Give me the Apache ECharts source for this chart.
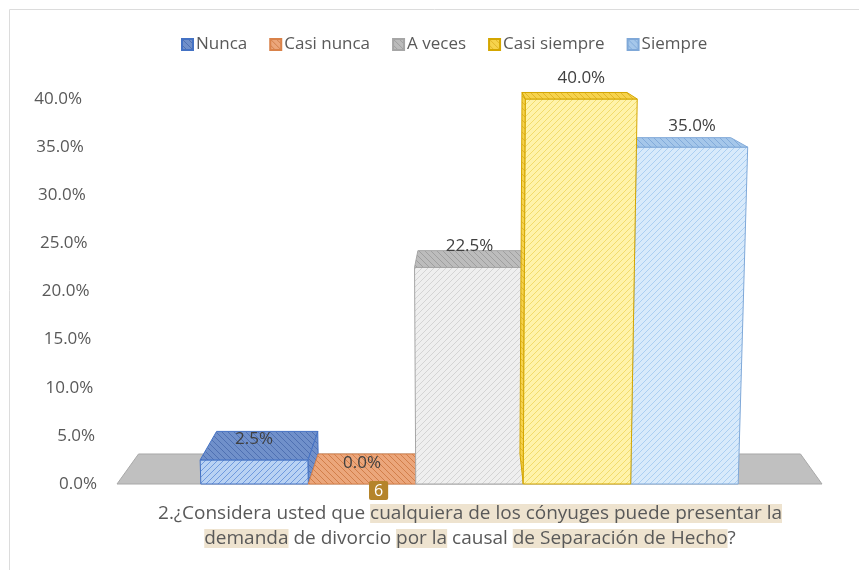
<!DOCTYPE html>
<html>
<head>
<meta charset="utf-8">
<script src="https://cdn.jsdelivr.net/npm/echarts@6/dist/echarts.min.js"></script>
<style>
html,body{margin:0;padding:0;background:#fff}
#myChart{width:859px;height:570px}
</style>
</head>
<body>
<div id="myChart"></div>
<script>
// datos del gráfico
var categories = ['Nunca', 'Casi nunca', 'A veces', 'Casi siempre', 'Siempre'];
var values = [2.5, 0, 22.5, 40, 35];
var yMin = 0, yMax = 40, yStep = 5;
var question = '2.¿Considera usted que {h|cualquiera de los cónyuges puede presentar la}\n{h|demanda} de divorcio {h|por la} causal {h|de Separación de Hecho}?';

var FONT = 'Open Sans';
var DEPTH = 0.939;  // escala del fondo (perspectiva)
var TILT = 9500;    // punto de fuga vertical, px bajo el piso

// relleno rayado tipo Excel
function hatch(bg, line, dir) {
    var c = document.createElement('canvas');
    c.width = 6; c.height = 6;
    var g = c.getContext('2d');
    g.fillStyle = bg; g.fillRect(0, 0, 6, 6);
    g.strokeStyle = line; g.lineWidth = 1;
    g.beginPath();
    if (dir > 0) {
        g.moveTo(0, 6); g.lineTo(6, 0);
        g.moveTo(-3, 3); g.lineTo(3, -3);
        g.moveTo(3, 9); g.lineTo(9, 3);
    } else {
        g.moveTo(0, 0); g.lineTo(6, 6);
        g.moveTo(-3, 3); g.lineTo(3, 9);
        g.moveTo(3, -3); g.lineTo(9, 3);
    }
    g.stroke();
    return { image: c, repeat: 'repeat' };
}

var palette = [
    { front: hatch('#b9d2f3', '#6f9ade', 1), top: hatch('#7090ca', '#4f70b2', -1), edge: '#4472c4' },
    { front: hatch('#f1b48c', '#dd8a55', 1), top: hatch('#eba67b', '#d27e4a', -1), edge: '#d9824a' },
    { front: hatch('#efefef', '#d4d4d4', 1), top: hatch('#bcbcbc', '#9f9f9f', -1), edge: '#a6a6a6' },
    { front: hatch('#fff3aa', '#f2dc6c', 1), top: hatch('#f6d34c', '#e2b52a', -1), edge: '#d4a600' },
    { front: hatch('#d8eafb', '#abcff2', 1), top: hatch('#a5c7ea', '#82abdb', -1), edge: '#7fa8d8' }
];

// proyección 3D aproximada a partir de las coordenadas del eje
function projector(cs, y0) {
    var cx = cs.x + cs.width / 2, vy = cs.y - 107, ty = y0 + TILT;
    return {
        front: function (p) {
            var s = (ty - p[1]) / TILT;
            return [cx + (p[0] - cx) * s, p[1]];
        },
        back: function (p) {
            return [cx + (p[0] - cx) * DEPTH, vy + (p[1] - vy) * DEPTH];
        },
        cx: cx
    };
}

function renderFloor(params, api) {
    var cs = params.coordSys;
    var y0 = api.coord([0, 0])[1];
    var P = projector(cs, y0);
    var a = [cs.x, y0], b = [cs.x + cs.width, y0];
    return {
        type: 'polygon',
        shape: { points: [a, b, P.back(b), P.back(a)] },
        style: { fill: '#c0c0c0', stroke: '#a8a8a8', lineWidth: 1 }
    };
}

function makeRender(k) {
    return function (params, api) {
        var cs = params.coordSys;
        var idx = api.value(0), v = api.value(1);
        var y0 = api.coord([0, 0])[1];
        var P = projector(cs, y0);
        var fl = P.front(api.coord([idx - 0.5, v]));
        var fr = P.front(api.coord([idx + 0.5, v]));
        var bl = P.front(api.coord([idx - 0.5, 0]));
        var br = P.front(api.coord([idx + 0.5, 0]));
        var back = P.back;
        var p = palette[k];
        var children = [];
        if ((fl[0] + fr[0]) / 2 < P.cx) {
            children.push({ type: 'polygon', shape: { points: [fr, back(fr), back(br), br] },
                style: { fill: p.top, stroke: p.edge, lineWidth: 1 } });
        } else {
            children.push({ type: 'polygon', shape: { points: [fl, back(fl), back(bl), bl] },
                style: { fill: p.top, stroke: p.edge, lineWidth: 1 } });
        }
        if (v > 0) {
            children.push({ type: 'polygon', shape: { points: [fl, fr, br, bl] },
                style: { fill: p.front, stroke: p.edge, lineWidth: 1 } });
        }
        children.push({ type: 'polygon', shape: { points: [fl, fr, back(fr), back(fl)] },
            style: { fill: p.top, stroke: p.edge, lineWidth: 1 } });
        children.push({ type: 'text', style: {
            text: v.toFixed(1) + '%', x: (fl[0] + fr[0]) / 2, y: fl[1] - 21,
            align: 'center', verticalAlign: 'middle',
            fill: '#404040', fontSize: 17, fontFamily: FONT } });
        return { type: 'group', children: children };
    };
}

var series = [{
    type: 'custom', name: 'piso', renderItem: renderFloor,
    data: [[0, 0]], encode: { x: 0, y: 1 }, silent: true, z: 1
}];
// orden de dibujo: los de la derecha antes que el más alto
[0, 1, 2, 4, 3].forEach(function (k) {
    series.push({
        type: 'custom',
        name: categories[k],
        renderItem: makeRender(k),
        itemStyle: { color: palette[k].top, borderColor: palette[k].edge, borderWidth: 1 },
        data: [[k, values[k]]],
        encode: { x: 0, y: 1 },
        z: 2
    });
});

// etiquetas del eje inclinadas como en la vista 3D
var axisRich = {};
for (var i = 0; i <= (yMax - yMin) / yStep; i++) {
    axisRich['p' + i] = { padding: [0, i * 15 / 8, 0, 0], color: '#595959', fontSize: 17, fontFamily: FONT };
}

var option = {
    animation: false,
    textStyle: { fontFamily: FONT },
    legend: {
        data: categories,
        left: 176, top: 31,
        itemWidth: 11, itemHeight: 11, itemGap: 22,
        icon: 'rect',
        textStyle: { color: '#595959', fontSize: 17, fontFamily: FONT, padding: [0, 0, 0, -2] }
    },
    grid: { left: 117, right: 37, top: 99, bottom: 86 },
    xAxis: { type: 'value', min: -1.28, max: 5.28, show: false },
    yAxis: {
        type: 'value', min: yMin, max: yMax, interval: yStep,
        axisLine: { show: false }, axisTick: { show: false }, splitLine: { show: false },
        axisLabel: {
            margin: 20, color: '#595959', fontSize: 17, fontFamily: FONT,
            formatter: function (v) { return '{p' + Math.round((v - yMin) / yStep) + '|' + v.toFixed(1) + '%}'; },
            rich: axisRich
        }
    },
    graphic: [
        { type: 'rect', shape: { x: 9.5, y: 9.5, width: 900, height: 600 },
          style: { fill: 'none', stroke: '#dcdcdc', lineWidth: 1 }, silent: true },
        { type: 'text', x: 470, y: 501, style: {
            text: question, align: 'center', verticalAlign: 'top',
            fill: '#595959', fontSize: 19, fontFamily: FONT, lineHeight: 25,
            rich: { h: { backgroundColor: '#eee3cf', fill: '#595959', fontSize: 19, fontFamily: FONT, lineHeight: 25 } }
        } },
        { type: 'text', left: 369, top: 481, z: 10, style: {
            text: '6', fill: '#fff', fontSize: 16, fontFamily: FONT,
            backgroundColor: '#b5842a', padding: [2, 5, 1, 5], borderRadius: 2
        } }
    ],
    series: series
};

var myChart = echarts.init(document.getElementById('myChart'));
myChart.setOption(option);
</script>
</body>
</html>
